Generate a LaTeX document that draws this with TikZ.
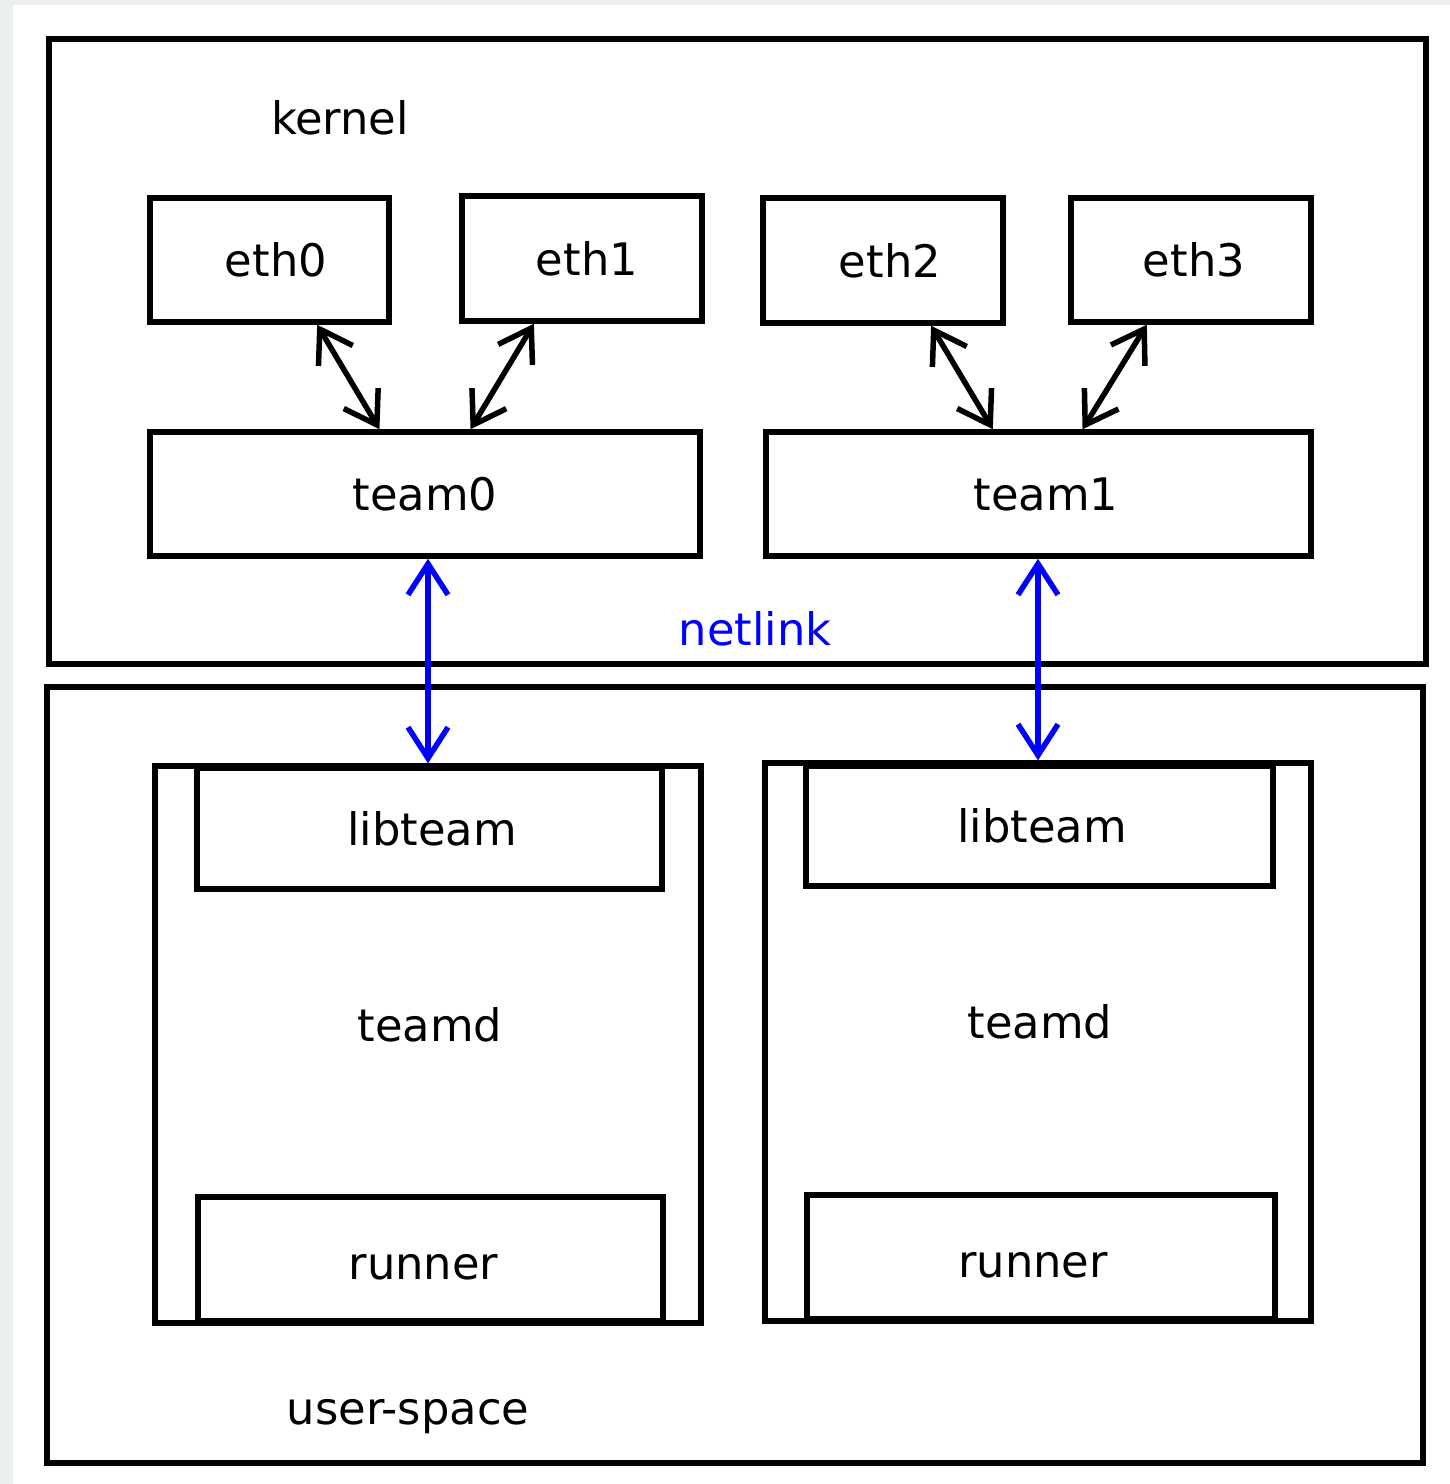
\documentclass[tikz,border=0pt]{standalone}
\usepackage{fontspec}
\setmainfont{DejaVu Sans}
\usepackage{tikz}
\usetikzlibrary{arrows.meta, positioning, calc}
\definecolor{pagegray}{RGB}{235,239,240}
\definecolor{linkblue}{RGB}{0,0,255}

\begin{document}
\begin{tikzpicture}[
    x=0.02cm, y=-0.02cm,
    font=\fontsize{25.5pt}{30pt}\selectfont,
    box/.style={rectangle, draw=black, line width=0.11cm, fill=none, inner sep=0pt},
    lbl/.style={inner sep=0pt, anchor=center},
    link/.style={{Straight Barb[length=0.62cm, width=0.8cm]}-{Straight Barb[length=0.62cm, width=0.8cm]}, line width=0.11cm}
]
    % page and margins
    \useasboundingbox (0,0) rectangle (1450,1484);
    \fill[pagegray] (0,0) rectangle (1450,1484);
    \fill[white] (13,5) rectangle (1450,1484);

    % kernel and user-space frames
    \node[box, minimum width=27.54cm, minimum height=12.5cm] (kernel) at (737.5,351.5) {};
    \node[box, minimum width=27.52cm, minimum height=15.52cm] (user) at (735,1075) {};
    \node[lbl] (kerneltxt) at (340,118) {kernel};
    \node[lbl] (usertxt) at (408,1417) {user-space};

    % ports
    \node[box, minimum width=4.78cm, minimum height=2.48cm, label={[lbl, xshift=0.13cm]center:eth0}] (eth0) at (269.5,260) {};
    \node[box, minimum width=4.8cm, minimum height=2.5cm, label={[lbl, xshift=0.1cm]center:eth1}] (eth1) at (582,258.5) {};
    \node[box, minimum width=4.8cm, minimum height=2.5cm, label={[lbl, xshift=0.14cm]center:eth2}] (eth2) at (883,260.5) {};
    \node[box, minimum width=4.8cm, minimum height=2.48cm, label={[lbl, xshift=0.06cm]center:eth3}] (eth3) at (1191,260) {};

    % team devices
    \node[box, minimum width=11cm, minimum height=2.48cm] (team0) at (425,494) {team0};
    \node[box, minimum width=10.9cm, minimum height=2.48cm, label={[lbl, xshift=0.15cm]center:team1}] (team1) at (1038.5,494) {};

    % teamd instances
    \node[box, minimum width=10.92cm, minimum height=11.14cm] (teamd0) at (428,1044.5) {};
    \node[box, minimum width=9.3cm, minimum height=2.42cm, label={[lbl, xshift=0.05cm]center:libteam}] (libteam0) at (429.5,828.5) {};
    \node[box, minimum width=9.3cm, minimum height=2.48cm, label={[lbl, xshift=-0.14cm, yshift=-0.16cm]center:runner}] (runner0) at (430.5,1259) {};
    \node[lbl] (teamd0txt) at (430,1025) {teamd};

    \node[box, minimum width=10.92cm, minimum height=11.16cm] (teamd1) at (1038,1042) {};
    \node[box, minimum width=9.34cm, minimum height=2.4cm, label={[lbl, xshift=0.05cm]center:libteam}] (libteam1) at (1039.5,826) {};
    \node[box, minimum width=9.36cm, minimum height=2.48cm, label={[lbl, xshift=-0.16cm, yshift=-0.16cm]center:runner}] (runner1) at (1041,1257) {};
    \node[lbl] (teamd1txt) at (1040,1022) {teamd};

    % port links
    \draw[link] ($(eth0.south west)!0.695!(eth0.south east)$) -- ($(team0.north west)!0.418!(team0.north east)$);
    \draw[link] ($(eth1.south west)!0.304!(eth1.south east)$) -- ($(team0.north west)!0.582!(team0.north east)$);
    \draw[link] ($(eth2.south west)!0.696!(eth2.south east)$) -- ($(team1.north west)!0.417!(team1.north east)$);
    \draw[link] ($(eth3.south west)!0.32!(eth3.south east)$) -- ($(team1.north west)!0.58!(team1.north east)$);

    % netlink
    \draw[link, linkblue] (teamd0.north |- team0.south) -- (teamd0.north);
    \draw[link, linkblue] (teamd1.north |- team1.south) -- (teamd1.north);
    \node[lbl, text=linkblue] (netlink) at (755,629) {netlink};
\end{tikzpicture}
\end{document}
